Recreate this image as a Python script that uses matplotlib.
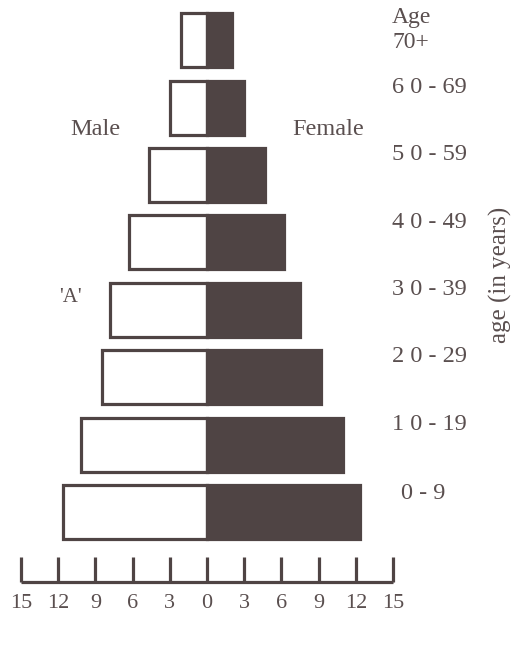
import matplotlib.pyplot as plt
import numpy as np

# age groups, bottom to top
age_groups = ["0 - 9", "1 0 - 19", "2 0 - 29", "3 0 - 39",
              "4 0 - 49", "5 0 - 59", "6 0 - 69", "70+"]
male = [11.6, 10.2, 8.5, 7.8, 6.3, 4.7, 3.0, 2.1]
female = [12.3, 11.0, 9.2, 7.5, 6.2, 4.7, 3.0, 2.0]
ticks = [-15, -12, -9, -6, -3, 0, 3, 6, 9, 12, 15]

dark = "#4f4444"
text_col = "#5a4f4f"
plt.rcParams["font.family"] = ["Liberation Serif", "DejaVu Serif"]

fig = plt.figure(figsize=(5.25, 6.45), dpi=100)
ax = fig.add_axes([0, 0, 1, 1])

# map pixels: 0 at x=207px, 12.4 px per unit; rows 67.4 px apart
x0 = 207
px_unit = 12.4
ax.set_xlim(-x0 / px_unit, (525 - x0) / px_unit)
ax.set_ylim((512 - 645) / 67.4, 512 / 67.4)
ax.axis("off")

y = np.arange(len(age_groups))
ax.barh(y, [-m for m in male], height=0.8, color="white",
        edgecolor=dark, linewidth=2.3)
ax.barh(y, female, height=0.8, color=dark, edgecolor=dark, linewidth=2.3)

# hand-drawn style scale at bottom
axis_y = -1.04
ax.plot([ticks[0], ticks[-1]], [axis_y, axis_y], color=dark, lw=2.3,
        solid_capstyle="butt")
for t in ticks:
    ax.plot([t, t], [axis_y, axis_y + 0.37], color=dark, lw=2.3,
            solid_capstyle="butt")
    ax.text(t, axis_y - 0.32, str(abs(t)), ha="center", va="center",
            fontsize=16, color=text_col)

# age labels on the right
label_x = (392 - x0) / px_unit
for i, lab in enumerate(age_groups):
    if lab == "70+":
        ax.text(label_x, i - 0.03, lab, ha="left", va="center",
                fontsize=17, color=text_col)
        ax.text(label_x, i + 0.33, "Age", ha="left", va="center",
                fontsize=17, color=text_col)
    elif lab == "0 - 9":
        ax.text(label_x + 0.7, i + 0.27, lab, ha="left", va="center",
                fontsize=17.5, color=text_col)
    else:
        ax.text(label_x, i + 0.3, lab, ha="left", va="center",
                fontsize=17.5, color=text_col)

ax.text((500 - x0) / px_unit, 3.52, "age (in years)", rotation=90,
        ha="center", va="center", fontsize=18, color=text_col)
ax.text((95 - x0) / px_unit, 5.67, "Male", ha="center", va="center",
        fontsize=17.5, color=text_col)
ax.text((328 - x0) / px_unit, 5.67, "Female", ha="center", va="center",
        fontsize=17.5, color=text_col)
ax.text((70 - x0) / px_unit, 3.18, "'A'", ha="center", va="center",
        fontsize=15, color=text_col)

fig.savefig("out.png", dpi=100)
